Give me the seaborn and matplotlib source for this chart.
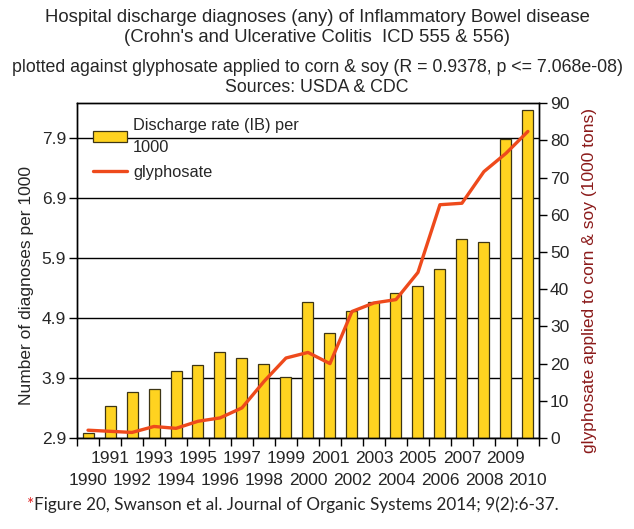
import numpy as np
import pandas as pd
import seaborn as sns
import matplotlib.pyplot as plt

# data
years = list(range(1990, 2011))
discharge_rate = [2.99, 3.43, 3.67, 3.72, 4.01, 4.12, 4.34, 4.23, 4.14, 3.92, 5.17,
                  4.65, 5.02, 5.17, 5.31, 5.44, 5.71, 6.22, 6.16, 7.89, 8.37]
glyphosate = [2.1, 1.8, 1.5, 3.1, 2.6, 4.5, 5.4, 8.1, 15.2, 21.5, 23.0,
              20.0, 34.0, 36.3, 37.2, 44.5, 62.7, 63.1, 71.6, 76.5, 82.4]
left_ticks = [2.9, 3.9, 4.9, 5.9, 6.9, 7.9]
right_ticks = list(range(0, 91, 10))

bar_color = '#FFD320'
bar_edge = '#3d3515'
line_color = '#EE4A1C'
right_label_color = '#8B1A1A'

sns.set_theme(style='white')
plt.rcParams['font.family'] = ['Liberation Sans', 'DejaVu Sans']

df = pd.DataFrame({'year': [str(y) for y in years],
                   'rate': discharge_rate,
                   'glyphosate': glyphosate,
                   'pos': np.arange(len(years))})

fig, ax = plt.subplots(figsize=(6.34, 5.29), dpi=100)
fig.subplots_adjust(left=0.1215, right=0.850, bottom=0.172, top=0.805)

sns.barplot(data=df, x='year', y='rate', ax=ax, color=bar_color, width=0.5,
            edgecolor=bar_edge, linewidth=0.9, saturation=1,
            label='Discharge rate (IB) per\n1000', zorder=2)
if ax.get_legend():
    ax.get_legend().remove()
ax.set_xlim(-0.5, len(years) - 0.5)
ax.set_ylim(2.9, 2.9 + 335 / 60)
ax.set_yticks(left_ticks)
ax.set_yticklabels([f'{t:.1f}' for t in left_ticks])
ax.grid(False)
for t in left_ticks:
    ax.axhline(t, color='black', lw=1.0, zorder=1)

# tick marks between the bars, staggered year labels under them
odd = [i for i, y in enumerate(years) if y % 2]
even = [i for i, y in enumerate(years) if not y % 2]
ax.set_xticks(np.arange(-0.5, len(years)), labels=[''] * (len(years) + 1))
ax.set_xticks(odd, minor=True)
ax.set_xticklabels([str(years[i]) for i in odd], minor=True)
ax.tick_params(axis='x', which='major', direction='out', length=6, width=1, color='black', bottom=True)
ax.tick_params(axis='x', which='minor', length=0, pad=9, labelsize=12.5, bottom=True)
sec = ax.secondary_xaxis('bottom')
sec.set_xticks(even, labels=[str(years[i]) for i in even])
sec.tick_params(axis='x', length=0, pad=25, labelsize=12.5)
sec.spines['bottom'].set_visible(False)
ax.tick_params(axis='y', direction='out', length=6, width=1, color='black', left=True, labelsize=12.5, pad=2)
ax.set_xlabel('')
ax.set_ylabel('Number of diagnoses per 1000', fontsize=12.5)
ax.yaxis.set_label_coords(-0.093, 0.454)

ax2 = ax.twinx()
sns.lineplot(data=df, x='pos', y='glyphosate', ax=ax2, color=line_color, lw=2.4,
             label='glyphosate', zorder=3)
ax2.set_ylim(0, 90)
ax2.set_yticks(right_ticks)
ax2.tick_params(axis='y', direction='out', length=6, width=1, color='black', right=True, labelsize=12.5, pad=2)
ax2.set_ylabel('glyphosate applied to corn & soy (1000 tons)', fontsize=12.5, color=right_label_color)
ax2.yaxis.set_label_coords(1.093, 0.47)
ax2.set_xlabel('')

for a in (ax, ax2):
    for s in a.spines.values():
        s.set_color('black')
        s.set_linewidth(1.0)

h1, l1 = ax.get_legend_handles_labels()
h2, l2 = ax2.get_legend_handles_labels()
if ax2.get_legend():
    ax2.get_legend().remove()
leg = ax2.legend(h1[:1] + h2[:1], l1[:1] + l2[:1], loc='upper left', bbox_to_anchor=(0.02, 0.975),
                 frameon=False, fontsize=11.8, handlelength=2.1, handleheight=0.6,
                 handletextpad=0.35, labelspacing=0.6, borderaxespad=0)
for t in leg.get_texts():
    t.set_linespacing(1.55)

# titles
fig.text(0.5, 1 - 17 / 529, 'Hospital discharge diagnoses (any) of Inflammatory Bowel disease',
         ha='center', va='center', fontsize=13.3)
fig.text(0.5, 1 - 37 / 529, "(Crohn's and Ulcerative Colitis  ICD 555 & 556)",
         ha='center', va='center', fontsize=13.3)
fig.text(0.5, 1 - 67 / 529, 'plotted against glyphosate applied to corn & soy (R = 0.9378, p <= 7.068e-08)',
         ha='center', va='center', fontsize=12.8)
fig.text(0.5, 1 - 87 / 529, 'Sources: USDA & CDC', ha='center', va='center', fontsize=12.8)

# footnote
star = fig.text(27 / 634, 1 - 505 / 529, '*', color='#E02020', fontsize=12.3,
                family=['Lato', 'DejaVu Sans'], va='center')
ax.annotate('Figure 20, Swanson et al. Journal of Organic Systems 2014; 9(2):6-37.',
            xy=(1, 0), xycoords=star, va='bottom', ha='left', fontsize=12.3,
            family=['Lato', 'DejaVu Sans'], annotation_clip=False)

plt.savefig('out.png', dpi=100)
